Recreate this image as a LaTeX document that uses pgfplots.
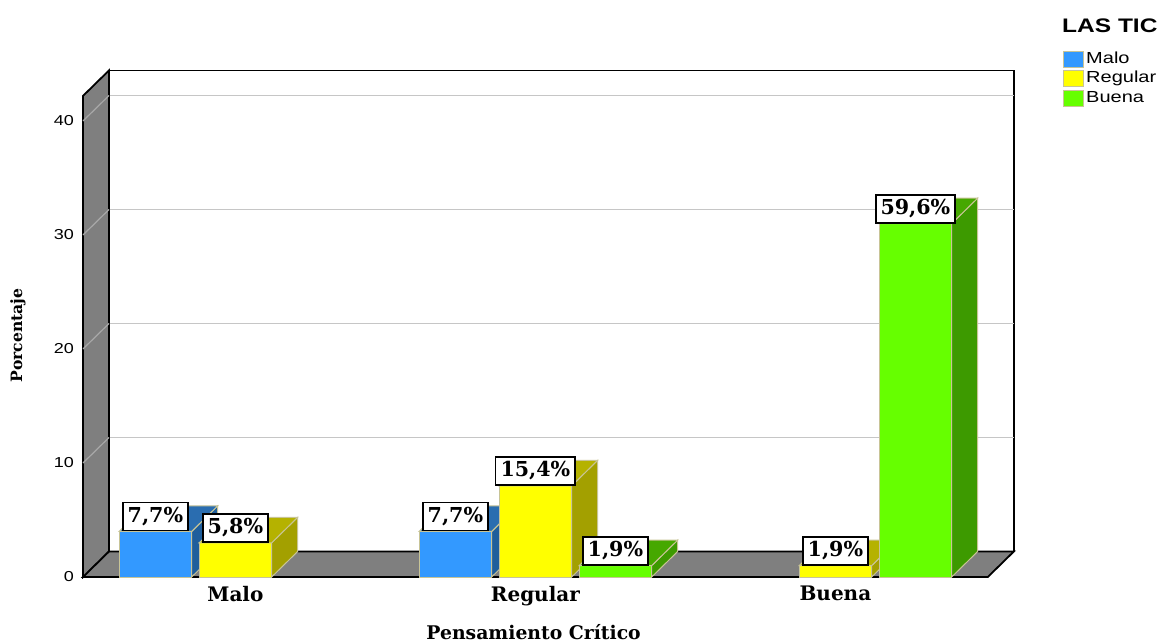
\documentclass[border=0pt]{standalone}
\usepackage{pgfplots}
\pgfplotsset{compat=1.18}
\usepackage{pgfplotstable}
\usepackage{fontspec}
\setmainfont{DejaVu Serif}
\newfontfamily\widesans[FakeStretch=1.25]{Liberation Sans}

% face colours per series: 0 = Malo, 1 = Regular, 2 = Buena
\definecolor{front0}{HTML}{3399FF}
\definecolor{side0}{HTML}{1F5E9C}
\definecolor{top0}{HTML}{2A6DB0}
\definecolor{front1}{HTML}{FFFF00}
\definecolor{side1}{HTML}{A3A000}
\definecolor{top1}{HTML}{B5B200}
\definecolor{front2}{HTML}{66FF00}
\definecolor{side2}{HTML}{3D9A00}
\definecolor{top2}{HTML}{46A800}
\definecolor{edgec}{HTML}{C8C496}
\definecolor{wallc}{HTML}{7F7F7F}
\definecolor{gridc}{HTML}{C6C6C6}
\definecolor{gridw}{HTML}{A8A8A8}

% counts by category (cat) and LAS TIC level (ser); N = 52
\pgfplotstableread{
cat ser n
0 0 4
0 1 3
1 0 4
1 1 8
1 2 1
2 1 1
2 2 31
}\bars
\def\total{52}

% box geometry (axis units)
\def\xL{-0.508}\def\xR{2.508}\def\yT{42.2}
\def\dx{0.0867}\def\dy{2.237}
\def\bw{0.2417}\def\pitch{0.2667}
\pgfmathsetmacro\xLb{\xL+\dx}
\pgfmathsetmacro\xRb{\xR+\dx}
\pgfmathsetmacro\yTb{\yT+\dy}
\pgfplotstablegetrowsof{\bars}
\pgfmathtruncatemacro\lastrow{\pgfplotsretval-1}

\begin{document}
\begin{tikzpicture}
\useasboundingbox (-41.5pt,-32.5pt) rectangle (541pt,288.5pt);
\begin{axis}[
  at={(0pt,0pt)}, anchor=south west,
  x=150pt, y=5.7pt,
  xmin=\xL, xmax=\xR, ymin=0, ymax=\yT,
  clip=false,
  axis line style={draw=none},
  major tick length=0pt,
  xtick={0,1,2}, xticklabels={Malo,Regular,Buena},
  ytick={0,10,20,30,40},
  xticklabel style={font=\bfseries\fontsize{10}{12}\selectfont, yshift=-1pt},
  yticklabel style={font=\widesans\fontsize{7.2}{8}\selectfont, xshift=-1pt},
  /pgf/number format/assume math mode=true,
  xlabel={Pensamiento Crítico}, ylabel={Porcentaje},
  xlabel style={at={(axis description cs:0.498,-0.114)}, anchor=center,
    font=\bfseries\fontsize{9.4}{11}\selectfont},
  ylabel style={at={(axis description cs:-0.0718,0.502)}, anchor=center,
    font=\bfseries\fontsize{7.8}{9}\selectfont},
  legend style={at={(axis description cs:1.0829,1.0975)}, anchor=north west,
    draw=none, fill=none, inner sep=0pt, row sep=0pt,
    font=\widesans\fontsize{8}{9}\selectfont,
    nodes={inner sep=1pt, text height=6pt, text depth=1.8pt},
    /tikz/every even column/.append style={column sep=1.5pt}},
  legend cell align=left,
  legend image code/.code={\draw[#1] (0pt,-4pt) rectangle (10pt,4pt);},
]
\addlegendimage{fill=front0, draw=edgec, line width=0.5pt}
\addlegendentry{Malo}
\addlegendimage{fill=front1, draw=edgec, line width=0.5pt}
\addlegendentry{Regular}
\addlegendimage{fill=front2, draw=edgec, line width=0.5pt}
\addlegendentry{Buena}

% back wall
\edef\tmp{\noexpand\addplot[forget plot, fill=white, draw=black, line width=0.9pt]
  coordinates {(\xLb,\dy) (\xRb,\dy) (\xRb,\yTb) (\xLb,\yTb)} -- cycle;}\tmp
% grid lines on the back wall
\pgfplotsinvokeforeach{10,20,30,40}{%
  \pgfmathsetmacro\gy{#1+\dy}%
  \edef\tmp{\noexpand\addplot[forget plot, draw=gridc, line width=0.9pt]
    coordinates {(\xLb,\gy) (\xRb,\gy)};}\tmp
}
% left wall
\edef\tmp{\noexpand\addplot[forget plot, fill=wallc, draw=black, line width=0.9pt]
  coordinates {(\xL,0) (\xLb,\dy) (\xLb,\yTb) (\xL,\yT)} -- cycle;}\tmp
\pgfplotsinvokeforeach{0,10,20,30,40}{%
  \pgfmathsetmacro\gy{#1+\dy}%
  \edef\tmp{\noexpand\addplot[forget plot, draw=gridw, line width=0.6pt]
    coordinates {(\xL,#1) (\xLb,\gy)};}\tmp
}
% floor
\edef\tmp{\noexpand\addplot[forget plot, fill=wallc, draw=black, line width=0.9pt]
  coordinates {(\xL,0) (\xR,0) (\xRb,\dy) (\xLb,\dy)} -- cycle;}\tmp

% 3D bars: front, side and top faces, left to right
\pgfplotsforeachungrouped \i in {0,...,\lastrow}{%
  \pgfplotstablegetelem{\i}{cat}\of\bars \let\bc\pgfplotsretval
  \pgfplotstablegetelem{\i}{ser}\of\bars \let\bs\pgfplotsretval
  \pgfplotstablegetelem{\i}{n}\of\bars \let\bn\pgfplotsretval
  \pgfmathsetmacro\xa{\bc+(\bs-1)*\pitch-\bw/2}%
  \pgfmathsetmacro\xb{\xa+\bw}%
  \pgfmathsetmacro\xc{\xb+\dx}%
  \pgfmathsetmacro\xd{\xa+\dx}%
  \pgfmathsetmacro\yt{\bn+\dy}%
  \edef\tmp{%
    \noexpand\addplot[forget plot, fill=front\bs, draw=edgec, line width=0.5pt]
      coordinates {(\xa,0) (\xb,0) (\xb,\bn) (\xa,\bn)} -- cycle;
    \noexpand\addplot[forget plot, fill=side\bs, draw=edgec, line width=0.5pt]
      coordinates {(\xb,0) (\xc,\dy) (\xc,\yt) (\xb,\bn)} -- cycle;
    \noexpand\addplot[forget plot, fill=top\bs, draw=edgec, line width=0.5pt]
      coordinates {(\xa,\bn) (\xb,\bn) (\xc,\yt) (\xd,\yt)} -- cycle;
  }\tmp
}

% percentage labels (share of N)
\addplot[forget plot, draw=none, mark=none, point meta=explicit,
  nodes near coords={\pgfmathprintnumber[fixed,fixed zerofill,precision=1,use comma]{\pgfplotspointmeta}\%},
  every node near coord/.append style={draw=black, line width=0.75pt, fill=white,
    text=black, font=\bfseries\fontsize{10.3}{12}\selectfont,
    inner xsep=2.4pt, inner ysep=2.4pt, text height=7.5pt, text depth=1.7pt, anchor=south}]
  table[x expr={\thisrow{cat}+(\thisrow{ser}-1)*\pitch}, y=n,
        meta expr={\thisrow{n}*100/\total}] {\bars};

\node[anchor=base west, inner sep=0pt, font=\widesans\bfseries\fontsize{9.8}{11}\selectfont]
  at (axis description cs:1.0818,1.1308) {LAS TIC};
\end{axis}
\end{tikzpicture}
\end{document}
